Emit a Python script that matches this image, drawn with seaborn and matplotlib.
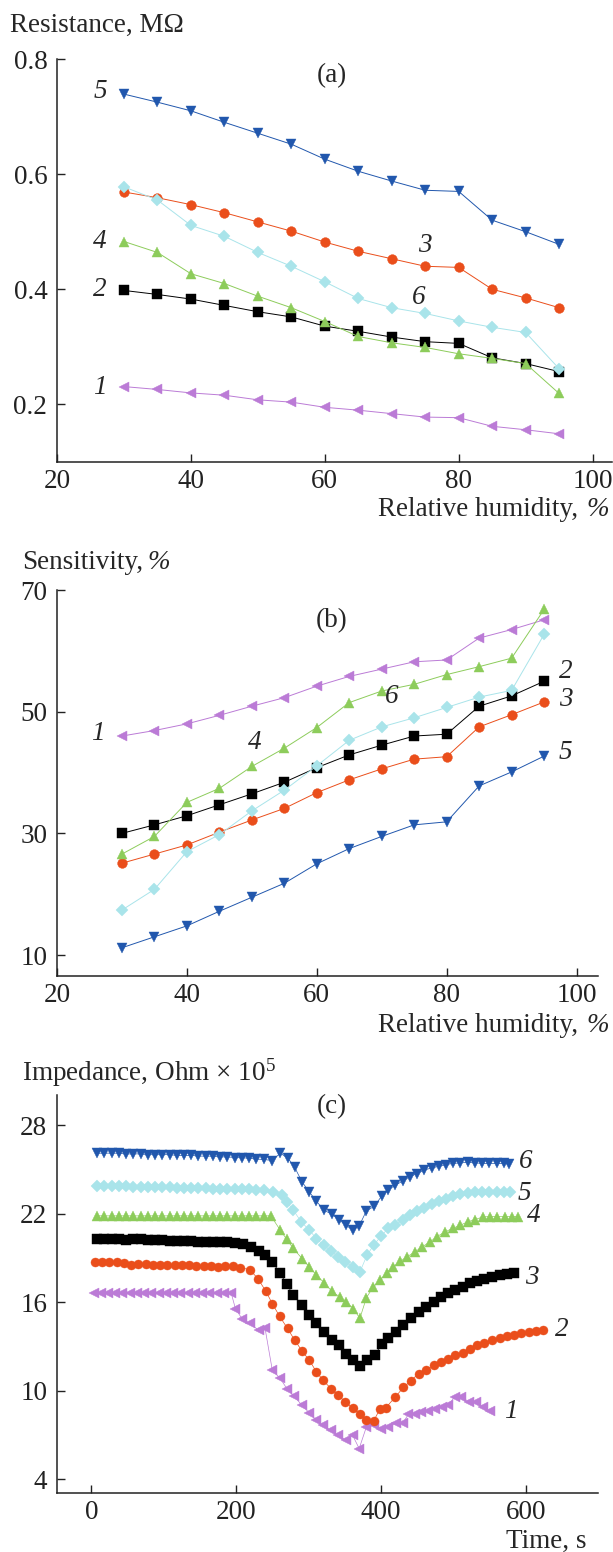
import matplotlib
matplotlib.use("Agg")
import matplotlib.pyplot as plt
import seaborn as sns

# ---------------- panel (a): resistance vs humidity ----------------
rh = [30, 35, 40, 45, 50, 55, 60, 65, 70, 75, 80, 85, 90, 95]
res_1 = [0.231, 0.226, 0.220, 0.216, 0.208, 0.204, 0.195, 0.190, 0.184, 0.178, 0.177, 0.162, 0.156, 0.149]
res_2 = [0.398, 0.391, 0.383, 0.372, 0.361, 0.352, 0.336, 0.327, 0.317, 0.309, 0.306, 0.281, 0.271, 0.257]
res_3 = [0.569, 0.559, 0.547, 0.533, 0.517, 0.501, 0.482, 0.466, 0.453, 0.440, 0.438, 0.400, 0.385, 0.368]
res_4 = [0.483, 0.464, 0.427, 0.410, 0.388, 0.368, 0.344, 0.318, 0.307, 0.299, 0.288, 0.280, 0.271, 0.219]
res_5 = [0.739, 0.725, 0.710, 0.690, 0.671, 0.652, 0.626, 0.605, 0.588, 0.572, 0.570, 0.520, 0.500, 0.478]
res_6 = [0.578, 0.555, 0.511, 0.492, 0.464, 0.440, 0.413, 0.384, 0.368, 0.358, 0.345, 0.334, 0.325, 0.262]

# ---------------- panel (b): sensitivity vs humidity ----------------
sen_1 = [46.0, 46.9, 48.0, 49.4, 50.9, 52.3, 54.2, 55.8, 57.0, 58.2, 58.5, 62.1, 63.5, 65.1]
sen_2 = [30.0, 31.4, 32.9, 34.7, 36.5, 38.4, 40.8, 42.9, 44.5, 46.0, 46.3, 50.9, 52.6, 55.0]
sen_3 = [25.1, 26.6, 28.1, 30.2, 32.2, 34.1, 36.7, 38.8, 40.6, 42.2, 42.6, 47.5, 49.5, 51.6]
sen_4 = [26.6, 29.5, 35.1, 37.4, 41.0, 44.0, 47.4, 51.5, 53.4, 54.5, 56.1, 57.4, 58.8, 66.8]
sen_5 = [11.2, 13.0, 14.8, 17.2, 19.5, 21.8, 25.0, 27.5, 29.5, 31.4, 31.9, 37.8, 40.1, 42.7]
sen_6 = [17.4, 20.8, 27.0, 29.8, 33.7, 37.1, 41.1, 45.3, 47.5, 49.0, 50.7, 52.4, 53.5, 62.7]

# ---------------- panel (c): impedance vs time ----------------
# curve numbering in (c): 1 purple, 2 orange, 3 black, 4 green, 5 cyan, 6 blue
t_1 = [3, 13, 23, 33, 43, 53, 63, 73, 83, 93, 103, 113, 123, 133, 143, 153, 163, 173, 183, 193,
       199, 208, 219, 231, 240, 250, 261, 270, 280, 291, 301, 310, 320, 331, 341, 352, 361, 370,
       380, 390, 400, 410, 421, 430, 438, 447, 456, 465, 475, 484, 493, 502, 511, 522, 532, 541, 551]
imp_1 = [16.65, 16.65, 16.65, 16.65, 16.65, 16.65, 16.65, 16.65, 16.65, 16.65, 16.65, 16.65, 16.65,
         16.65, 16.65, 16.65, 16.65, 16.65, 16.65, 16.65,
         15.57, 14.89, 14.56, 14.10, 14.22, 11.39, 10.83, 10.15, 9.63, 9.02, 8.50, 8.05, 7.66, 7.32,
         6.98, 6.64, 6.98, 6.08, 7.55, 7.66, 7.44, 7.55, 7.78, 7.78, 8.41, 8.41, 8.56, 8.63, 8.79,
         8.90, 9.02, 9.58, 9.58, 9.24, 9.24, 8.90, 8.63]

t_2 = [5, 15, 25, 35, 45, 55, 65, 75, 85, 95, 105, 115, 125, 135, 145, 155, 165, 175, 185, 195, 205,
       219, 230, 241, 250, 260, 271, 281, 291, 301, 311, 320, 331, 341, 351, 361, 371, 380, 390,
       399, 407, 420, 431, 441, 452, 462, 473, 483, 493, 502, 513, 523, 533, 543, 553, 564, 574,
       584, 594, 604, 614, 624]
imp_2 = [18.75, 18.75, 18.70, 18.70, 18.65, 18.55, 18.60, 18.60, 18.55, 18.55, 18.50, 18.50, 18.50,
         18.50, 18.45, 18.45, 18.45, 18.40, 18.45, 18.45, 18.35,
         18.20, 17.60, 16.75, 15.90, 15.05, 14.22, 13.42, 12.70, 12.07, 11.28, 10.71, 10.15, 9.69,
         9.24, 8.83, 8.41, 8.05, 7.95, 8.79, 8.86, 9.58, 10.22, 10.66, 11.16, 11.39, 11.73, 11.95,
         12.18, 12.41, 12.56, 12.86, 13.08, 13.24, 13.42, 13.54, 13.69, 13.78, 13.88, 13.95, 14.03, 14.10]

t_3 = [8, 18, 28, 38, 48, 58, 68, 78, 88, 98, 108, 118, 128, 138, 148, 158, 168, 178, 188, 198,
       210, 221, 231, 240, 250, 260, 270, 279, 291, 301, 311, 322, 332, 342, 352, 362, 371, 381,
       392, 401, 410, 421, 431, 441, 452, 462, 473, 483, 493, 502, 513, 523, 533, 543, 553, 564,
       574, 584]
imp_3 = [20.30, 20.30, 20.25, 20.25, 20.20, 20.30, 20.25, 20.20, 20.20, 20.20, 20.15, 20.15, 20.15,
         20.15, 20.10, 20.10, 20.10, 20.05, 20.05, 20.00,
         19.95, 19.75, 19.50, 19.20, 18.75, 18.00, 17.22, 16.47, 15.80, 15.12, 14.56, 13.99, 13.42,
         13.08, 12.52, 12.10, 11.66, 12.10, 12.40, 13.20, 13.54, 13.99, 14.44, 14.90, 15.34, 15.68,
         16.02, 16.36, 16.59, 16.81, 17.04, 17.27, 17.44, 17.60, 17.72, 17.83, 17.90, 17.95]

t_4 = [8, 18, 28, 38, 48, 58, 68, 78, 88, 98, 108, 118, 128, 138, 148, 158, 168, 178, 188, 198,
       208, 218, 228, 238, 248,
       261, 270, 279, 291, 301, 311, 322, 332, 343, 352, 362, 371, 380, 389, 399, 408, 417, 427,
       436, 447, 457, 468, 477, 489, 499, 510, 520, 530, 541, 551, 561, 571, 581, 589]
imp_4 = [21.85, 21.85, 21.85, 21.85, 21.85, 21.85, 21.85, 21.85, 21.85, 21.85, 21.85, 21.85, 21.85,
         21.85, 21.85, 21.85, 21.85, 21.85, 21.85, 21.85, 21.85, 21.85, 21.85, 21.85, 21.85,
         20.88, 20.25, 19.64, 18.96, 18.40, 17.83, 17.30, 16.75, 16.36, 16.00, 15.57, 14.90, 16.30,
         17.00, 17.50, 18.00, 18.40, 18.78, 19.07, 19.41, 19.75, 20.09, 20.43, 20.77, 21.00, 21.22,
         21.45, 21.60, 21.78, 21.80, 21.80, 21.80, 21.80, 21.80]

t_5 = [8, 18, 28, 38, 48, 58, 68, 78, 88, 98, 108, 118, 128, 138, 148, 158, 168, 178, 188, 198,
       208, 218, 228, 238,
       251, 263, 270, 279, 290, 301, 311, 321, 331, 341, 351, 361, 371, 381, 390, 400, 410, 420,
       430, 440, 450, 460, 470, 480, 490, 500, 510, 520, 530, 540, 550, 560, 570, 578]
imp_5 = [23.85, 23.85, 23.85, 23.85, 23.85, 23.80, 23.80, 23.80, 23.80, 23.80, 23.80, 23.75, 23.75,
         23.75, 23.75, 23.75, 23.70, 23.70, 23.70, 23.70, 23.65, 23.65, 23.60, 23.60,
         23.45, 23.25, 22.80, 22.24, 21.44, 20.90, 20.30, 19.86, 19.48, 19.07, 18.73, 18.40, 18.05,
         19.20, 19.86, 20.47, 21.00, 21.20, 21.60, 21.90, 22.17, 22.40, 22.65, 22.85, 23.00, 23.20,
         23.30, 23.40, 23.50, 23.50, 23.50, 23.50, 23.50, 23.50]

t_6 = [8, 18, 28, 38, 48, 58, 68, 78, 88, 98, 108, 118, 128, 138, 148, 158, 168, 178, 188, 198,
       208, 218, 228, 238, 250,
       261, 272, 281, 291, 301, 311, 321, 332, 342, 352, 361, 370, 380, 391, 401, 410, 420, 430,
       440, 450, 460, 470, 480, 490, 500, 510, 520, 530, 540, 550, 560, 570, 577]
imp_6 = [26.10, 26.10, 26.10, 26.10, 26.05, 26.05, 26.05, 26.00, 26.00, 26.00, 26.00, 25.95, 25.95,
         25.95, 25.90, 25.90, 25.90, 25.85, 25.85, 25.80, 25.80, 25.75, 25.70, 25.67, 25.60,
         26.10, 25.74, 25.13, 24.16, 23.48, 22.85, 22.24, 21.97, 21.60, 21.20, 20.90, 21.17, 22.19,
         22.50, 23.19, 23.60, 23.93, 24.20, 24.50, 24.72, 24.95, 25.10, 25.20, 25.33, 25.40, 25.45,
         25.47, 25.45, 25.40, 25.40, 25.40, 25.40, 25.35]

PURPLE, BLACK, ORANGE = "#bb7bd6", "#000000", "#ea4e1b"
GREEN, BLUE, CYAN = "#8dcc5b", "#2157ad", "#a9e4ea"

# (a) and (b) share one numbering, (c) uses another
style_ab = {"1": (PURPLE, "<"), "2": (BLACK, "s"), "3": (ORANGE, "o"),
            "4": (GREEN, "^"), "5": (BLUE, "v"), "6": (CYAN, "D")}
style_c = {"1": (PURPLE, "<"), "2": (ORANGE, "o"), "3": (BLACK, "s"),
           "4": (GREEN, "^"), "5": (CYAN, "D"), "6": (BLUE, "v")}

sns.set_theme(style="ticks")
plt.rcParams["font.family"] = ["Liberation Serif", "DejaVu Serif"]
plt.rcParams["mathtext.fontset"] = "custom"
plt.rcParams["mathtext.rm"] = "Liberation Serif"
plt.rcParams["mathtext.it"] = "Liberation Serif:italic"

FS = 19.5
W, H = 613, 1552
fig = plt.figure(figsize=(W / 100, H / 100), dpi=100)


def fx(px):
    return px / W


def fy(py):
    return 1 - py / H


def make_axes(left, right, top, bottom):
    ax = fig.add_axes([fx(left), fy(bottom), (right - left) / W, (bottom - top) / H])
    sns.despine(ax=ax)
    for s in ("left", "bottom"):
        ax.spines[s].set_linewidth(1.1)
        ax.spines[s].set_color("#222222")
    ax.tick_params(direction="in", length=6, width=1.0, labelsize=FS, colors="#222222")
    ax.tick_params(axis="y", pad=7)
    ax.tick_params(axis="x", pad=5)
    return ax


def draw(ax, x, y, sty, ms, lw=0.7):
    c, m = sty
    size = ms * 0.9 if m == "D" else ms
    sns.lineplot(x=x, y=y, ax=ax, color=c, marker=m, markersize=size,
                 markeredgecolor=c, markeredgewidth=0.3, linewidth=lw, sort=False)


def label(px, py, s, **kw):
    fig.text(fx(px), fy(py), s, fontsize=FS, ha="center", va="center", **kw)


def pct_label(px_right, py, s):
    # text with an italic "%" at the end, right-aligned at px_right
    fig.text(fx(px_right), fy(py), "%", fontsize=FS, ha="right", va="center", style="italic")
    fig.text(fx(px_right - 31), fy(py), s, fontsize=FS, ha="right", va="center")


# (a)
ax_a = make_axes(57, 612, 59, 462)
for k, v in zip("123456", [res_1, res_2, res_3, res_4, res_5, res_6]):
    draw(ax_a, rh, v, style_ab[k], 7)
ax_a.set_xlim(20, 102.9)
ax_a.set_ylim(0.1, 0.8)
ax_a.set_xticks([20, 40, 60, 80, 100])
ax_a.set_yticks([0.2, 0.4, 0.6, 0.8])

fig.text(fx(10), fy(25), "Resistance, M\u03a9", fontsize=FS, ha="left", va="center")
pct_label(609, 510, "Relative humidity,")
label(332, 76, "(a)")
for s, px, py in [("5", 100, 92), ("4", 100, 242), ("2", 100, 289), ("1", 100, 387),
                  ("3", 425, 245), ("6", 419, 297)]:
    label(px, py, s, style="italic")

# (b)
ax_b = make_axes(57, 598, 590, 976)
for k, v in zip("123456", [sen_1, sen_2, sen_3, sen_4, sen_5, sen_6]):
    draw(ax_b, rh, v, style_ab[k], 7)
ax_b.set_xlim(20, 103.3)
ax_b.set_ylim(6.56, 70)
ax_b.set_xticks([20, 40, 60, 80, 100])
ax_b.set_yticks([10, 30, 50, 70])

fig.text(fx(22), fy(562), "Sensitivity,", fontsize=FS, ha="left", va="center")
fig.text(fx(147), fy(562), "%", fontsize=FS, ha="left", va="center", style="italic")
pct_label(609, 1025, "Relative humidity,")
label(332, 621, "(b)")
for s, px, py in [("1", 98, 733), ("4", 255, 742), ("6", 392, 697), ("2", 566, 672),
                  ("3", 566, 700), ("5", 565, 752)]:
    label(px, py, s, style="italic")

# (c)
ax_c = make_axes(57, 598, 1095, 1493)
for k, t, v in zip("123456", [t_1, t_2, t_3, t_4, t_5, t_6],
                   [imp_1, imp_2, imp_3, imp_4, imp_5, imp_6]):
    draw(ax_c, t, v, style_c[k], 6.5, lw=0.5)
ax_c.set_xlim(-47.5, 700)
ax_c.set_ylim(3.07, 30.04)
ax_c.set_xticks([0, 200, 400, 600])
ax_c.set_yticks([4, 10, 16, 22, 28])

fig.text(fx(22), fy(1073), "Impedance, Ohm \u00d7 10$^5$", fontsize=FS, ha="left", va="center")
fig.text(fx(586), fy(1541), "Time, s", fontsize=FS, ha="right", va="center")
label(332, 1107, "(c)")
for s, px, py in [("6", 526, 1162), ("5", 524, 1193), ("4", 534, 1215), ("3", 532, 1277),
                  ("2", 562, 1329), ("1", 511, 1412)]:
    label(px, py, s, style="italic")

fig.savefig("out.png", dpi=100)
